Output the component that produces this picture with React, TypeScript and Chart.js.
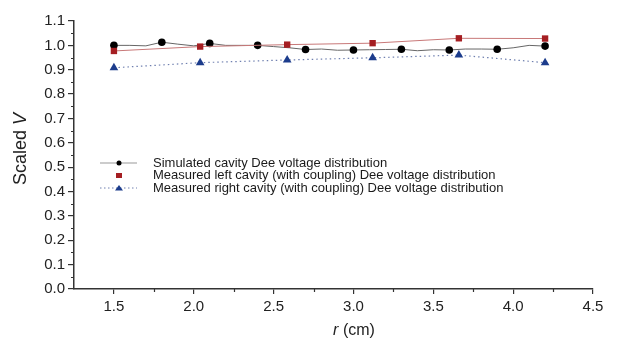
import React, { useEffect, useRef } from "react";
import { Chart, registerables } from "chart.js";

Chart.register(...registerables);

// ---- data ----
const simR = [1.5, 1.6, 1.7, 1.8, 1.9, 2.0, 2.1, 2.2, 2.3, 2.4, 2.5, 2.6, 2.7, 2.8, 2.9, 3.0, 3.1, 3.2, 3.3, 3.4, 3.5, 3.6, 3.7, 3.8, 3.9, 4.0, 4.1, 4.2];
const simV = [1.0, 1.0, 0.998, 1.013, 1.005, 0.998, 1.008, 1.0, 1.0, 1.0, 0.995, 0.99, 0.983, 0.985, 0.98, 0.981, 0.982, 0.983, 0.984, 0.978, 0.982, 0.981, 0.985, 0.985, 0.984, 0.99, 1.0, 0.997];
const simMarkerEvery = 3;
const measR = [1.5, 2.04, 2.585, 3.12, 3.66, 4.2];
const leftV = [0.977, 0.995, 1.003, 1.009, 1.029, 1.028];
const rightV = [0.908, 0.929, 0.94, 0.949, 0.96, 0.929];
const xTicks = [1.5, 2.0, 2.5, 3.0, 3.5, 4.0, 4.5];
const xMinor = [1.75, 2.25, 2.75, 3.25, 3.75, 4.25];
const yTicks = [0, 0.1, 0.2, 0.3, 0.4, 0.5, 0.6, 0.7, 0.8, 0.9, 1.0, 1.1];
const yMinor = [0.05, 0.15, 0.25, 0.35, 0.45, 0.55, 0.65, 0.75, 0.85, 0.95, 1.05];
const legendLabels = [
  "Simulated cavity Dee voltage distribution",
  "Measured left cavity (with coupling) Dee voltage distribution",
  "Measured right cavity (with coupling) Dee voltage distribution",
];

const FONT = "'Liberation Sans', Arial, sans-serif";
const AXIS = "#333";

const extrasPlugin = {
  id: "extras",
  afterDraw(chart: any) {
    const ctx = chart.ctx as CanvasRenderingContext2D;
    const xs = chart.scales.x;
    const ys = chart.scales.y;
    const area = chart.chartArea;
    ctx.save();
    // minor ticks
    ctx.strokeStyle = AXIS;
    ctx.lineWidth = 1.2;
    ctx.beginPath();
    yMinor.forEach((v) => {
      const py = Math.round(ys.getPixelForValue(v)) + 0.5;
      ctx.moveTo(area.left - 3, py);
      ctx.lineTo(area.left, py);
    });
    xMinor.forEach((v) => {
      const px = Math.round(xs.getPixelForValue(v)) + 0.5;
      ctx.moveTo(px, area.bottom);
      ctx.lineTo(px, area.bottom + 3);
    });
    ctx.stroke();

    // axis titles
    ctx.fillStyle = "#222";
    ctx.textBaseline = "middle";
    // x title: "r (cm)"
    const cx = 354;
    const ty = 331;
    ctx.font = `italic 16px ${FONT}`;
    const wr = ctx.measureText("r").width;
    ctx.font = `16px ${FONT}`;
    const wrest = ctx.measureText(" (cm)").width;
    const sx = cx - (wr + wrest) / 2;
    ctx.textAlign = "left";
    ctx.font = `italic 16px ${FONT}`;
    ctx.fillText("r", sx, ty);
    ctx.font = `16px ${FONT}`;
    ctx.fillText(" (cm)", sx + wr, ty);
    // y title: "Scaled V"
    ctx.save();
    ctx.translate(21, 149);
    ctx.rotate(-Math.PI / 2);
    ctx.font = `18px ${FONT}`;
    const ws = ctx.measureText("Scaled ").width;
    ctx.font = `italic 18px ${FONT}`;
    const wv = ctx.measureText("V").width;
    const sy = -(ws + wv) / 2;
    ctx.font = `18px ${FONT}`;
    ctx.fillText("Scaled ", sy, 0);
    ctx.font = `italic 18px ${FONT}`;
    ctx.fillText("V", sy + ws, 0);
    ctx.restore();

    // legend
    const rows = [163, 175.5, 188];
    const lx0 = 100, lx1 = 137, mx = 119, tx = 153;
    ctx.font = `13px ${FONT}`;
    ctx.textAlign = "left";
    // row 1
    ctx.strokeStyle = "#999";
    ctx.lineWidth = 1;
    ctx.beginPath();
    ctx.moveTo(lx0, rows[0]);
    ctx.lineTo(lx1, rows[0]);
    ctx.stroke();
    ctx.fillStyle = "#000";
    ctx.beginPath();
    ctx.arc(mx, rows[0], 2.5, 0, Math.PI * 2);
    ctx.fill();
    // row 2
    ctx.fillStyle = "#a51e22";
    ctx.fillRect(mx - 3, rows[1] - 2.5, 6, 5);
    // row 3
    ctx.strokeStyle = "#7080b0";
    ctx.setLineDash([1.5, 2.5]);
    ctx.beginPath();
    ctx.moveTo(lx0, rows[2]);
    ctx.lineTo(lx1, rows[2]);
    ctx.stroke();
    ctx.setLineDash([]);
    ctx.fillStyle = "#1c3c8c";
    ctx.beginPath();
    ctx.moveTo(mx - 4, rows[2] + 2.5);
    ctx.lineTo(mx + 4, rows[2] + 2.5);
    ctx.lineTo(mx, rows[2] - 3);
    ctx.closePath();
    ctx.fill();
    ctx.fillStyle = "#1a1a1a";
    legendLabels.forEach((t, i) => ctx.fillText(t, tx, rows[i]));
    ctx.restore();
  },
};

export default function App() {
  const ref = useRef<HTMLCanvasElement | null>(null);
  useEffect(() => {
    if (!ref.current) return;
    const simData = simR.map((x, i) => ({ x, y: simV[i] }));
    const leftData = measR.map((x, i) => ({ x, y: leftV[i] }));
    const rightData = measR.map((x, i) => ({ x, y: rightV[i] }));
    const chart = new Chart(ref.current, {
      type: "scatter",
      data: {
        datasets: [
          {
            label: legendLabels[2],
            data: rightData,
            showLine: true,
            borderColor: "#7080b0",
            borderWidth: 1.2,
            borderDash: [1.5, 3],
            pointStyle: "triangle",
            pointRadius: 5,
            pointBackgroundColor: "#1c3c8c",
            pointBorderColor: "#1c3c8c",
            pointBorderWidth: 0,
          },
          {
            label: legendLabels[1],
            data: leftData,
            showLine: true,
            borderColor: "#c87878",
            borderWidth: 1,
            pointStyle: "rect",
            pointRadius: 4.5,
            pointBackgroundColor: "#a51e22",
            pointBorderColor: "#a51e22",
            pointBorderWidth: 0,
          },
          {
            label: legendLabels[0],
            data: simData,
            showLine: true,
            borderColor: "#666",
            borderWidth: 1,
            pointStyle: "circle",
            pointRadius: simR.map((_, i) => (i % simMarkerEvery === 0 ? 3.8 : 0)),
            pointBackgroundColor: "#000",
            pointBorderColor: "#000",
            pointBorderWidth: 0,
          },
        ],
      },
      options: {
        animation: false,
        responsive: false,
        maintainAspectRatio: false,
        layout: { padding: { top: 21, right: 26, left: 0, bottom: 0 } },
        plugins: { legend: { display: false }, tooltip: { enabled: false } },
        scales: {
          x: {
            type: "linear",
            min: 1.25,
            max: 4.5,
            afterBuildTicks: (s: any) => {
              s.ticks = xTicks.map((v) => ({ value: v }));
            },
            afterFit: (s: any) => {
              s.height = 54;
            },
            ticks: {
              callback: (v: any) => Number(v).toFixed(1),
              font: { family: FONT, size: 15 },
              color: "#222",
              padding: 4,
              maxRotation: 0,
              autoSkip: false,
            },
            grid: {
              display: true,
              drawOnChartArea: false,
              drawTicks: true,
              tickLength: 5,
              color: AXIS,
              lineWidth: 1.2,
            },
            border: { display: true, color: AXIS, width: 1.5 },
          },
          y: {
            type: "linear",
            min: 0,
            max: 1.1,
            afterBuildTicks: (s: any) => {
              s.ticks = yTicks.map((v) => ({ value: v }));
            },
            afterFit: (s: any) => {
              s.width = 74;
            },
            ticks: {
              callback: (v: any) => Number(v).toFixed(1),
              font: { family: FONT, size: 15 },
              color: "#222",
              padding: 3,
              autoSkip: false,
            },
            grid: {
              display: true,
              drawOnChartArea: false,
              drawTicks: true,
              tickLength: 6,
              color: AXIS,
              lineWidth: 1.2,
            },
            border: { display: true, color: AXIS, width: 1.5 },
          },
        },
      },
      plugins: [extrasPlugin],
    });
    return () => chart.destroy();
  }, []);
  return (
    <div style={{ position: "fixed", left: 0, top: 0, width: 619, height: 343, background: "#fff" }}>
      <canvas ref={ref} width={619} height={343} style={{ width: 619, height: 343, display: "block" }} />
    </div>
  );
}
